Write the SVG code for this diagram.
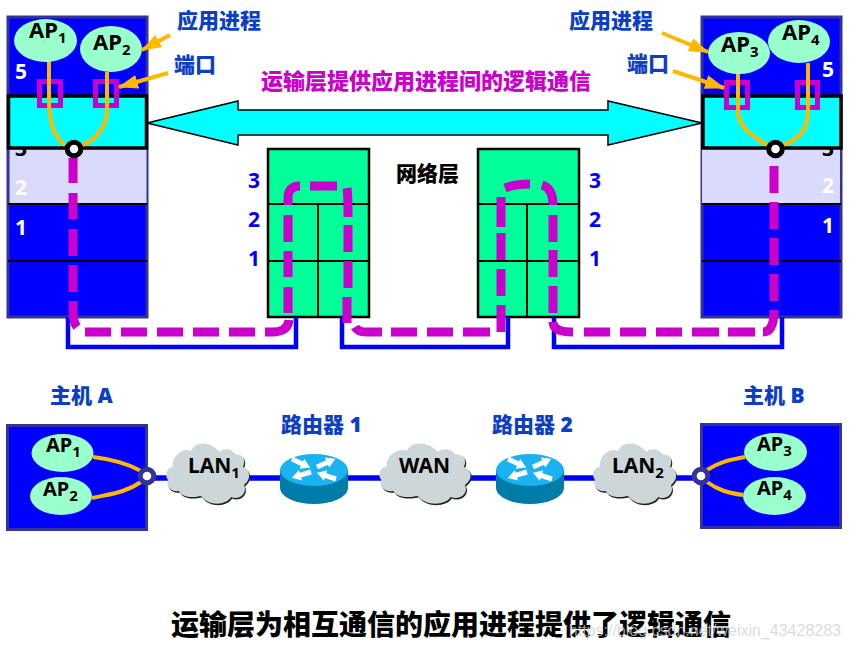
<svg xmlns="http://www.w3.org/2000/svg" xmlns:xlink="http://www.w3.org/1999/xlink" width="850" height="649" viewBox="0 0 850 649">
<style>
text{font-family:"Noto Sans","Noto Sans CJK SC","Liberation Sans",sans-serif;font-weight:700}
.cn{font-size:21px;fill:#0d3fc6;font-weight:900}
.ap{font-size:22px;fill:#000}
.aps{font-size:20px;fill:#000}
.sub{font-size:15px}
.num{font-size:21px;fill:#fff}
.bl{font-size:21px;fill:#0000ff}
.cl{font-size:21px;fill:#000}
.hostbg{fill:#0000ff;stroke:#333399;stroke-width:3}
.app{fill:#99ffcc}
.cyan{fill:#00ffff;stroke:#000;stroke-width:3.5}
.lav{fill:#dadaff}
.div{stroke:#000;stroke-width:2}
.port{fill:none;stroke:#cc00cc;stroke-width:5}
.orange{fill:none;stroke:#ffb800;stroke-width:4}
.call{fill:none;stroke:#ffb800;stroke-width:4;marker-end:url(#oh)}
.magenta{fill:none;stroke:#cc00cc;stroke-width:9}
.wire{fill:none;stroke:#0000ff;stroke-width:4.5}
.green{fill:#00ff99;stroke:#000;stroke-width:2.5}
.grid{stroke:#000;stroke-width:2}
.pb{fill:#fff;stroke:#000;stroke-width:5}
.ph{fill:#fff;stroke:#333399;stroke-width:5}
</style>
<defs>
<marker id="oh" viewBox="0 0 10 7" refX="9.500" refY="3.500" markerWidth="5" markerHeight="3.500" orient="auto"><path d="M0 0L10 3.500L0 7z" fill="#ffb800"/></marker>
<path id="cloudp" d="M8 24C2 24-1 32 3 37C0 43 7 50 14 48C18 56 30 54 36 53C44 64 62 62 66 54C74 58 83 50 79 42C87 36 85 26 78 24C82 16 76 10 70 12C66 4 58 6 54 9C46-2 30-2 26 8C18 4 6 14 8 24Z"/>
<g id="cloud"><use xlink:href="#cloudp" href="#cloudp" x="1" y="1.500" fill="#222"/><use xlink:href="#cloudp" href="#cloudp" fill="#cdd7d9"/></g>
<path id="rar" d="M0-2.500H11V-5.500L20 0L11 5.500V2.500H0Z" fill="#fff"/>
<g id="router">
<path d="M-34 0V18A34 16 0 0 0 34 18V0Z" fill="#007ca8"/>
<ellipse rx="34" ry="16" fill="#1ab2f0"/>
<use xlink:href="#rar" href="#rar" transform="translate(-22 -11) rotate(25)"/>
<use xlink:href="#rar" href="#rar" transform="translate(3 -3) rotate(-24)"/>
<use xlink:href="#rar" href="#rar" transform="translate(-3 2) rotate(163)"/>
<use xlink:href="#rar" href="#rar" transform="translate(22 9) rotate(198)"/>
</g>
</defs>
<rect width="850" height="649" fill="#fff"/>

<g id="host-a-stack">
<rect x="8" y="17" width="139" height="300" class="hostbg"/>
<rect x="9.500" y="148" width="137" height="56" class="lav"/>
<line x1="8" y1="204" x2="147" y2="204" class="div"/>
<line x1="8" y1="261" x2="147" y2="261" class="div"/>
<text x="15" y="79" class="num">5</text>
<text x="15" y="156" class="num" style="fill:#000">3</text>
<text x="15" y="195" class="num">2</text>
<text x="15" y="235" class="num">1</text>
<rect x="8.500" y="96" width="138" height="52" class="cyan"/>
<rect x="39.500" y="81.500" width="21" height="24" class="port"/>
<rect x="95.500" y="81.500" width="21" height="24" class="port"/>
</g>

<g id="host-b-stack">
<rect x="702" y="17" width="139" height="300" class="hostbg"/>
<rect x="702" y="148" width="138" height="56" class="lav"/>
<line x1="702" y1="204" x2="841" y2="204" class="div"/>
<line x1="702" y1="261" x2="841" y2="261" class="div"/>
<text x="822" y="77" class="num">5</text>
<text x="822" y="156" class="num" style="fill:#000">3</text>
<text x="822" y="193" class="num">2</text>
<text x="822" y="233" class="num">1</text>
<rect x="703" y="96" width="138" height="52" class="cyan"/>
<rect x="726.500" y="82.500" width="21" height="25" class="port"/>
<rect x="797.500" y="82.500" width="20" height="25" class="port"/>
</g>

<g id="router-stack-1">
<rect x="268" y="149" width="101" height="168" class="green"/>
<path d="M268 204H369M268 261H369M318 204V317" class="grid"/>
<text x="248" y="188" class="bl">3</text>
<text x="248" y="227" class="bl">2</text>
<text x="248" y="266" class="bl">1</text>
</g>
<g id="router-stack-2">
<rect x="478" y="149" width="101" height="168" class="green"/>
<path d="M478 204H579M478 261H579M527 204V317" class="grid"/>
<text x="589" y="188" class="bl">3</text>
<text x="589" y="227" class="bl">2</text>
<text x="589" y="266" class="bl">1</text>
</g>

<g id="connectors">
<path d="M147 123L238 101V110H608V101L702 123L608 145V135H238V145Z" fill="#00ffff" stroke="#000" stroke-width="1.500"/>
<path d="M68 317V347H296V317M342 317V347H508V317M554 317V347H782V317" class="wire"/>
<path d="M49 60V100C49 125 55 138 65 145M107 72V110C107 125 97 140 82 145M738 73V112C738 125 750 135 767 145M808 63V112C808 130 798 140 783 145" class="orange"/>
<path d="M73 158V183M73 193V219M73 229V256M73 265V292M73 301V310Q73 322 77 327M85 332H111M121 332H147M157 332H183M193 332H219M229 332H255M265 332H272Q288 332 289 320M288 313V287M288 277V251M288 242V215M288 205V198Q288 186 300 186M310 186H337M347 188Q348 194 348 217M348 225V252M348 261V288M347 297V323M355 327Q358 332 366 332H382M391 332H417M427 332H453M463 332H490M501 332V305M501 296V269M501 260V233M501 227V197M505 188Q515 184 530 184M542 185Q553 188 553 205M553 215V242M553 250V277M553 286V313M553 322Q553 332 573 332M584 332H610M620 332H646M656 332H682M692 332H719M728 332H755M763 332Q774 332 774 310M774 301V274M774 265V238M774 229V202M774 193V166" class="magenta"/>
<line x1="147" y1="478" x2="700" y2="478" stroke="#0000ff" stroke-width="5.500"/>
<circle cx="74" cy="149" r="6.800" class="pb"/>
<circle cx="775.500" cy="149" r="6.800" class="pb"/>
</g>

<g id="ap1-top"><ellipse cx="45.500" cy="40.500" rx="31.500" ry="21.500" class="app"/><text x="29" y="38" class="ap">AP<tspan class="sub" dy="5">1</tspan></text></g>
<g id="ap2-top"><ellipse cx="111" cy="49" rx="31" ry="23" class="app"/><text x="93" y="50" class="ap">AP<tspan class="sub" dy="5">2</tspan></text></g>
<g id="ap3-top"><ellipse cx="739" cy="53" rx="31" ry="21" class="app"/><text x="721" y="52" class="ap">AP<tspan class="sub" dy="5">3</tspan></text></g>
<g id="ap4-top"><ellipse cx="799" cy="41.500" rx="31" ry="21.500" class="app"/><text x="782" y="40" class="ap">AP<tspan class="sub" dy="5">4</tspan></text></g>

<g id="callouts">
<path d="M170 35L142 50" class="call"/>
<path d="M168 73L119 87" class="call"/>
<path d="M662 33L708 52" class="call"/>
<path d="M673 71L724 88" class="call"/>
</g>

<g id="labels">
<text x="177" y="28" class="cn">应用进程</text>
<text x="174" y="72" class="cn">端口</text>
<text x="569" y="28" class="cn">应用进程</text>
<text x="627" y="71" class="cn">端口</text>
<text x="261" y="89" font-size="22" fill="#cc00cc" style="font-weight:900">运输层提供应用进程间的逻辑通信</text>
<text x="396" y="181" class="cl" style="font-weight:900">网络层</text>
<text x="50" y="403" class="cn">主机 A</text>
<text x="743" y="403" class="cn">主机 B</text>
<text x="281" y="432" class="cn">路由器 1</text>
<text x="492" y="432" class="cn">路由器 2</text>
<text x="171" y="635" font-size="28" fill="#000" style="font-weight:900">运输层为相互通信的应用进程提供了逻辑通信</text>
<text x="841" y="636" text-anchor="end" font-size="16" fill="#cfcfcf" fill-opacity=".75" style="font-family:'Liberation Sans',sans-serif;font-weight:400">https://blog.csdn.net/weixin_43428283</text>
</g>

<g id="host-a">
<rect x="7.500" y="425.500" width="139" height="104" class="hostbg"/>
<g id="ap1-low"><ellipse cx="62.500" cy="453" rx="31" ry="19" class="app"/><text x="46" y="452" class="aps">AP<tspan class="sub" dy="5">1</tspan></text></g>
<g id="ap2-low"><ellipse cx="61" cy="496" rx="31" ry="19" class="app"/><text x="43" y="496" class="aps">AP<tspan class="sub" dy="5">2</tspan></text></g>
</g>
<g id="host-b">
<rect x="701.500" y="424.500" width="139" height="103" class="hostbg"/>
<g id="ap3-low"><ellipse cx="775.500" cy="452" rx="31.500" ry="19" class="app"/><text x="757" y="451" class="aps">AP<tspan class="sub" dy="5">3</tspan></text></g>
<g id="ap4-low"><ellipse cx="774.500" cy="496" rx="31.500" ry="19" class="app"/><text x="757" y="495" class="aps">AP<tspan class="sub" dy="5">4</tspan></text></g>
</g>
<g id="connectors-low">
<path d="M93 457C110 459 125 462 141 471M92 498C110 494 125 493 141 482M745 457C728 460 720 462 707 470M743 495C728 493 718 490 707 482" class="orange"/>
<circle cx="147" cy="476" r="6.800" class="ph"/>
<circle cx="701" cy="476" r="6.800" class="ph"/>
</g>

<g id="lan1"><use xlink:href="#cloud" href="#cloud" transform="translate(165 443)"/><text x="188" y="473" class="cl">LAN<tspan class="sub" dy="5">1</tspan></text></g>
<g id="wan"><use xlink:href="#cloud" href="#cloud" transform="translate(378 443) scale(1.1 1)"/><text x="399" y="473" class="cl">WAN</text></g>
<g id="lan2"><use xlink:href="#cloud" href="#cloud" transform="translate(592 443)"/><text x="612" y="473" class="cl">LAN<tspan class="sub" dy="5">2</tspan></text></g>
<g id="router-1"><use xlink:href="#router" href="#router" transform="translate(314 470)"/></g>
<g id="router-2"><use xlink:href="#router" href="#router" transform="translate(530 470)"/></g>
</svg>
